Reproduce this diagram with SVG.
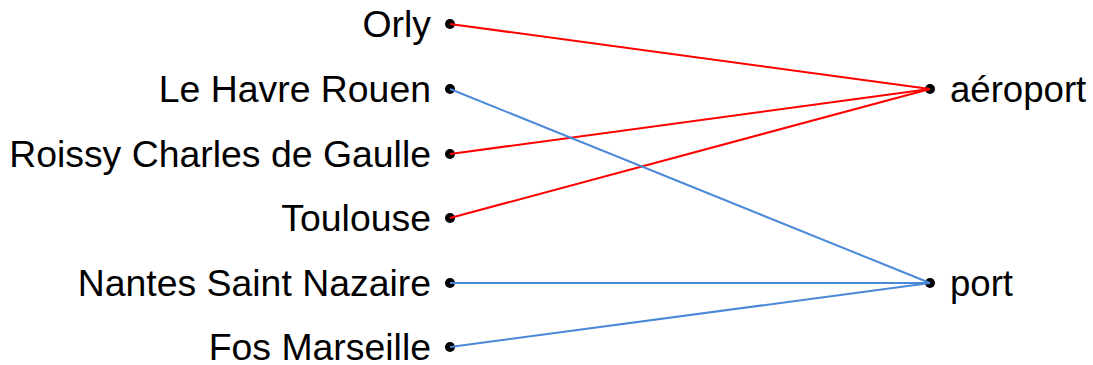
<svg xmlns="http://www.w3.org/2000/svg" width="1093" height="365" viewBox="0 0 1093 365">
<style>
text{font-family:"Liberation Sans",Arial,sans-serif;font-size:36.6px;fill:#000}
.l{text-anchor:end;font-size:37.4px}
circle{fill:#000}
.r{stroke:#FF0000;stroke-width:2;fill:none}
.b{stroke:#4A88D8;stroke-width:2;fill:none}
</style>
<rect width="1093" height="365" fill="#fff"/>
<g id="orly"><circle cx="450" cy="24" r="5"/><text class="l" x="431" y="37">Orly</text></g>
<g id="lehavre"><circle cx="450" cy="89" r="5"/><text class="l" x="431" y="101.5">Le Havre Rouen</text></g>
<g id="roissy"><circle cx="450" cy="154" r="5"/><text class="l" x="431" y="166.5">Roissy Charles de Gaulle</text></g>
<g id="toulouse"><circle cx="450" cy="218" r="5"/><text class="l" x="431" y="230.5">Toulouse</text></g>
<g id="nantes"><circle cx="450" cy="283" r="5"/><text class="l" x="431" y="295.5">Nantes Saint Nazaire</text></g>
<g id="fos"><circle cx="450" cy="347" r="5"/><text class="l" x="431" y="359.5">Fos Marseille</text></g>
<g id="aeroport"><circle cx="930" cy="89" r="5"/><text x="950" y="101.5">aéroport</text></g>
<g id="port"><circle cx="930" cy="283" r="5"/><text x="950" y="295.5">port</text></g>
<g id="connectors">
<line class="r" x1="450" y1="24" x2="930" y2="89"/>
<line class="r" x1="450" y1="154" x2="930" y2="89"/>
<line class="r" x1="450" y1="218" x2="930" y2="89"/>
<line class="b" x1="450" y1="89" x2="930" y2="283"/>
<line class="b" x1="450" y1="283" x2="930" y2="283"/>
<line class="b" x1="450" y1="347" x2="930" y2="283"/>
</g>
</svg>
